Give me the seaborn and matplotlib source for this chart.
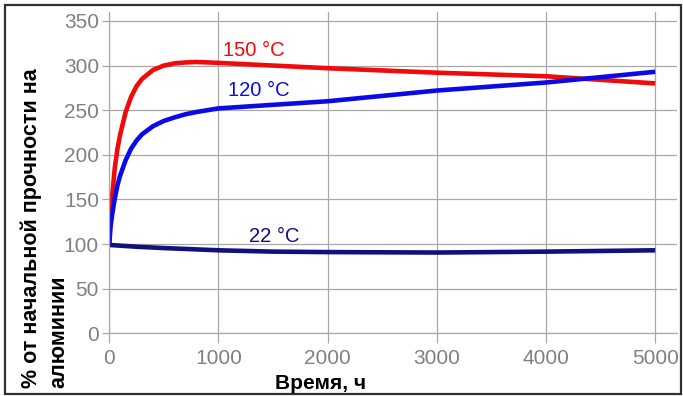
import matplotlib
matplotlib.use("Agg")
import matplotlib.pyplot as plt
from matplotlib.patches import Rectangle
import pandas as pd
import seaborn as sns

# Ageing time, hours, and strength in % of the initial value
hours_150 = [0, 10, 25, 50, 75, 100, 150, 200, 250, 300, 400, 500, 600, 700, 800,
             1000, 1500, 2000, 3000, 4000, 5000]
strength_150 = [100, 125, 152, 185, 207, 223, 248, 265, 277, 285, 295, 300, 302.5,
                303.5, 304, 303, 300, 297, 292, 288, 280]

hours_120 = [0, 10, 25, 50, 75, 100, 150, 200, 250, 300, 400, 500, 600, 700, 800,
             1000, 1500, 2000, 3000, 4000, 5000]
strength_120 = [100, 118, 132, 151, 166, 177, 194, 207, 216, 223, 232, 238, 242,
                245.5, 248, 252, 256, 260, 272, 281, 293]

hours_22 = [0, 250, 500, 1000, 1500, 2000, 3000, 4000, 5000]
strength_22 = [99, 97, 95.5, 93, 91.5, 91, 90.5, 91.5, 93]

series_names = ["150 °C", "120 °C", "22 °C"]
series_colors = ["#f00a0a", "#0a0ae6", "#10107e"]

x_ticks = [0, 1000, 2000, 3000, 4000, 5000]
y_ticks = [0, 50, 100, 150, 200, 250, 300, 350]

y_title_lines = ["% от начальной прочности на", "алюминии"]
x_title = "Время, ч"

# curve labels: (time, strength) of the label centre
label_pos = [(1320, 317), (1365, 272), (1513, 109)]

frames = []
for name, h, s in zip(series_names,
                      [hours_150, hours_120, hours_22],
                      [strength_150, strength_120, strength_22]):
    frames.append(pd.DataFrame({"hours": h, "strength": s, "temp": name}))
df = pd.concat(frames, ignore_index=True)

sns.set_theme(style="white")
plt.rcParams["font.family"] = ["Liberation Sans", "DejaVu Sans"]

fig = plt.figure(figsize=(6.83, 3.96), dpi=100)
ax = fig.add_axes([109.3 / 683, (396 - 333.3) / 396, (677 - 109.3) / 683, (333.3 - 12) / 396])

grid_c = "#a8a8a8"
ax.set_xlim(0, 5200)
ax.set_ylim(0, 360)
ax.set_xticks(x_ticks)
ax.set_yticks(y_ticks)
ax.grid(True, color=grid_c, linewidth=0.9)
ax.set_axisbelow(True)
for side in ["top", "right"]:
    ax.spines[side].set_visible(False)
for side in ["left", "bottom"]:
    ax.spines[side].set_color(grid_c)
    ax.spines[side].set_linewidth(0.9)
ax.tick_params(axis="x", length=7, width=0.9, color=grid_c, labelcolor="#808080",
               labelsize=15, pad=4, direction="out", bottom=True)
ax.tick_params(axis="y", length=5, width=0.9, color=grid_c, labelcolor="#808080",
               labelsize=15, pad=2.5, direction="out", left=True)

sns.lineplot(data=df, x="hours", y="strength", hue="temp", hue_order=series_names,
             palette=series_colors, linewidth=3.3, legend=False, ax=ax,
             solid_capstyle="butt", solid_joinstyle="round")

for name, col, (tx, ty) in zip(series_names, series_colors, label_pos):
    ax.text(tx, ty, name, color=col, fontsize=14.5, ha="center", va="center")

ax.set_xlabel("")
ax.set_ylabel("")

fig.text(321 / 683, (396 - 389) / 396, x_title, fontsize=15, fontweight="bold",
         ha="center", va="baseline", color="black")
# two-line y title, both lines starting at the bottom
for line, xc in zip(y_title_lines, [31, 58.5]):
    fig.text(xc / 683, (396 - 388) / 396, line, fontsize=15.5, fontweight="bold",
             rotation=90, ha="center", va="bottom", color="black")

# outer frame
fig.patches.append(Rectangle((5 / 683, 2.5 / 396), 676 / 683, 389 / 396,
                             transform=fig.transFigure, fill=False,
                             edgecolor="#303030", linewidth=1.6))

fig.savefig("out.png", dpi=100, facecolor="white")
